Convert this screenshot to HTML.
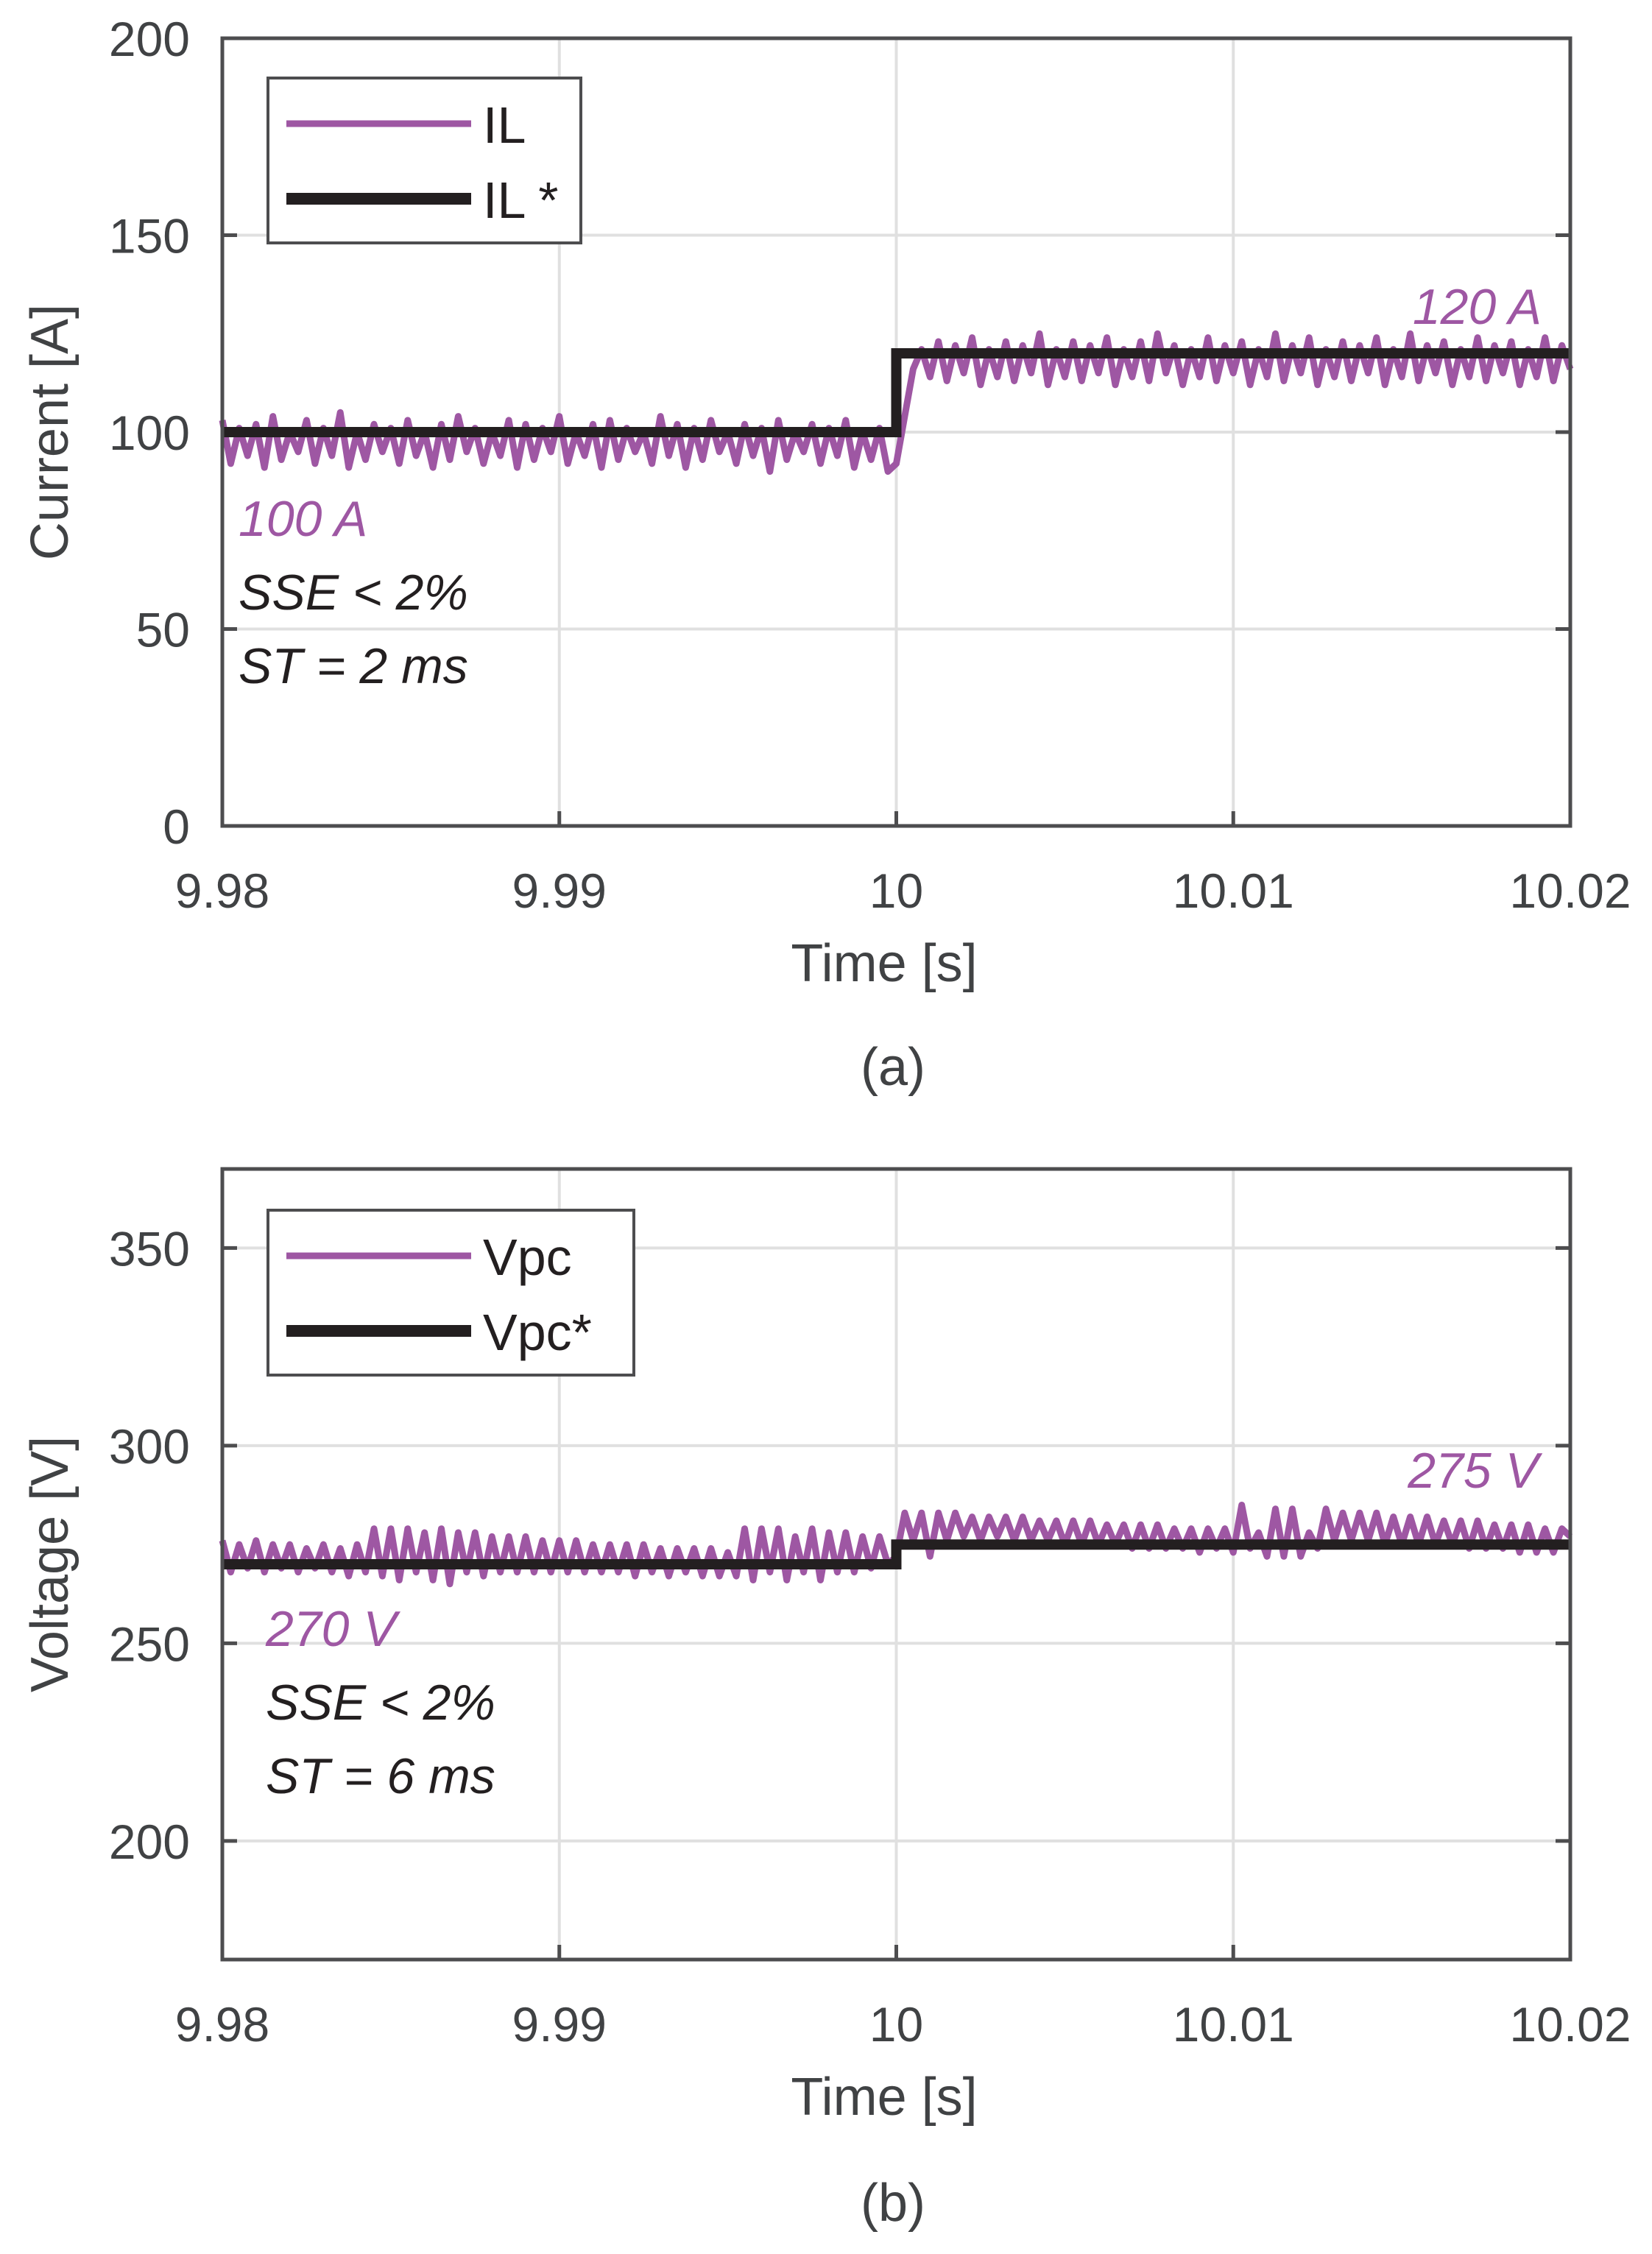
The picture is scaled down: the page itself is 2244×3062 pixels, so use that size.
<!DOCTYPE html>
<html><head><meta charset="utf-8"><style>
html,body{margin:0;padding:0;background:#fff;}
svg{display:block;font-family:"Liberation Sans",sans-serif;}
</style></head><body>
<svg id="fig" width="2244" height="3062" viewBox="0 0 2244 3062" xmlns="http://www.w3.org/2000/svg">
<rect width="2244" height="3062" fill="#fff"/>
<g id="panelA"></g>
<g id="panelB"></g>
</svg>
<script>
const tStart = 9.98, tStep = 0.00025;
const xTicks = [9.98, 9.99, 10, 10.01, 10.02];
const xTickLabels = ["9.98", "9.99", "10", "10.01", "10.02"];
const yTicksA = [0, 50, 100, 150, 200];
const yTicksB = [200, 250, 300, 350];
const refTimes = [9.98, 10.0, 10.0, 10.02];
const ilRef = [100, 100, 120, 120];
const vpcRef = [270, 270, 275, 275];
const ilValues = [
103,92,101,94,102,91,104,93,100,95,103,92,101,94,105,91,100,93,102,95,
101,92,103,94,100,91,102,93,104,95,101,92,100,94,103,91,102,93,101,95,
104,92,100,94,102,91,103,93,101,95,100,92,104,94,102,91,101,93,103,95,
100,92,102,94,101,90,103,93,100,95,102,92,101,94,103,91,100,93,101,90,
92,104,116,121,114,123,113,122,115,124,112,121,114,123,113,122,115,125,112,121,
114,123,113,122,115,124,112,121,114,123,113,125,115,122,112,121,114,124,113,122,
115,123,112,121,114,125,113,122,115,124,112,121,114,123,113,122,115,124,112,121,
114,125,113,122,115,123,112,121,114,124,113,122,115,123,112,121,114,124,113,122,116];
const vpcValues = [
276,268,275,269,276,268,275,269,275,268,274,269,275,268,274,267,275,268,279,267,
279,266,279,268,278,266,279,265,278,268,278,267,277,268,277,268,277,268,276,268,
276,268,276,268,275,268,275,268,275,267,275,268,274,267,274,268,274,267,274,267,
273,267,279,266,279,268,279,266,277,268,279,266,278,268,278,268,277,269,277,270,
272,283,276,283,272,283,276,283,277,282,276,282,277,282,276,282,276,281,276,281,
275,281,275,281,275,280,275,280,274,280,274,280,274,279,274,279,273,279,274,279,
273,285,274,278,272,284,272,284,272,278,274,284,276,283,276,283,276,283,275,282,
275,282,275,282,275,281,275,281,274,281,274,280,274,280,273,280,273,279,273,279,277];

const NS = "http://www.w3.org/2000/svg";
const AX = "#4d4d4f", TXT = "#404244", PUR = "#9e57a3", BLK = "#231f20";
function mk(parent, tag, attrs, text) {
  const e = document.createElementNS(NS, tag);
  for (const k in attrs) e.setAttribute(k, attrs[k]);
  if (text !== undefined) e.textContent = text;
  parent.appendChild(e);
  return e;
}
function drawPanel(g, cfg) {
  const L = 302, R = 2133, T = cfg.top, B = cfg.bottom;
  const xs = t => L + (t - 9.98) / 0.04 * (R - L);
  const ys = v => B - (v - cfg.ymin) / (cfg.ymax - cfg.ymin) * (B - T);
  xTicks.forEach((t, i) => {
    const gl = mk(g, "line", {x1: xs(t), x2: xs(t), y1: T, y2: B, stroke: "#e0e0e0", "stroke-width": 4});
    
    
    const tk = mk(g, "line", {x1: xs(t), x2: xs(t), y1: B, y2: B - 20, stroke: AX, "stroke-width": 5});
    
    
    const lb = mk(g, "text", {x: xs(t), y: cfg.xLabelY, "text-anchor": "middle", "font-size": 66, fill: TXT}, xTickLabels[i]);
    
    
  });
  cfg.yTicks.forEach(v => {
    const gl = mk(g, "line", {x1: L, x2: R, y1: ys(v), y2: ys(v), stroke: "#e0e0e0", "stroke-width": 4});
    
    
    const t1 = mk(g, "line", {x1: L, x2: L + 20, y1: ys(v), y2: ys(v), stroke: AX, "stroke-width": 5});
    
    
    const t2 = mk(g, "line", {x1: R, x2: R - 20, y1: ys(v), y2: ys(v), stroke: AX, "stroke-width": 5});
    
    
    const lb = mk(g, "text", {x: 258, y: ys(v) + 24, "text-anchor": "end", "font-size": 66, fill: TXT}, String(v));
    
    
  });
  const pts = cfg.values.map((v, i) => xs(tStart + i * tStep).toFixed(1) + "," + ys(v).toFixed(1)).join(" ");
  const meas = mk(g, "polyline", {points: pts, fill: "none", stroke: PUR, "stroke-width": 9, "stroke-linejoin": "round"});
  
  
  const rp = cfg.ref.map((v, i) => xs(refTimes[i]).toFixed(1) + "," + ys(v).toFixed(1)).join(" ");
  const ref = mk(g, "polyline", {points: rp, fill: "none", stroke: BLK, "stroke-width": 14, "stroke-linejoin": "miter"});
  
  
  const box = mk(g, "rect", {x: L, y: T, width: R - L, height: B - T, fill: "none", stroke: AX, "stroke-width": 5});
  
  
  const lg = mk(g, "g", {});
  
  
  mk(lg, "rect", {x: 364, y: cfg.legTop, width: cfg.legW, height: 224, fill: "#fff", stroke: AX, "stroke-width": 4});
  const e1 = mk(lg, "line", {x1: 389, x2: 640, y1: cfg.legTop + 62, y2: cfg.legTop + 62, stroke: PUR, "stroke-width": 9});
  
  
  const e1t = mk(lg, "text", {x: 656, y: cfg.legTop + 88, "font-size": 70, fill: BLK}, cfg.leg1);
  
  
  const e2 = mk(lg, "line", {x1: 389, x2: 640, y1: cfg.legTop + 164, y2: cfg.legTop + 164, stroke: BLK, "stroke-width": 16});
  
  
  const e2t = mk(lg, "text", {x: 656, y: cfg.legTop + 190, "font-size": 70, fill: BLK}, cfg.leg2);
  
  
  const a1 = mk(g, "text", {x: cfg.hiX, y: cfg.hiY, "text-anchor": "end", "font-size": 68, "font-style": "italic", fill: PUR}, cfg.hiText);
  
  
  const a2 = mk(g, "text", {x: cfg.loX, y: cfg.loY, "font-size": 68, "font-style": "italic", fill: PUR}, cfg.loText);
  
  
  const a3 = mk(g, "text", {x: cfg.loX, y: cfg.loY + 100, "font-size": 68, "font-style": "italic", fill: BLK}, "SSE < 2%");
  
  
  const a4 = mk(g, "text", {x: cfg.loX, y: cfg.loY + 200, "font-size": 68, "font-style": "italic", fill: BLK}, cfg.stText);
  
  
  const yt = mk(g, "text", {x: 0, y: 0, "text-anchor": "middle", "font-size": 72, fill: TXT, transform: "translate(92," + ((T + B) / 2) + ") rotate(-90)"}, cfg.yTitle);
  
  
  const xt = mk(g, "text", {x: 1201, y: cfg.xLabelY + 100, "text-anchor": "middle", "font-size": 72, fill: TXT}, "Time [s]");
  
  
  const cap = mk(g, "text", {x: 1213, y: cfg.capY, "text-anchor": "middle", "font-size": 72, fill: TXT}, cfg.cap);
  
  
}
drawPanel(document.getElementById("panelA"), {
  top: 52, bottom: 1122, ymin: 0, ymax: 200, yTicks: yTicksA, xLabelY: 1233,
  values: ilValues, ref: ilRef, measName: "il-measured-line", refName: "il-reference-line",
  legTop: 106, legW: 425, leg1: "IL", leg2: "IL *",
  hiX: 2094, hiY: 440, hiText: "120 A", loX: 324, loY: 728, loText: "100 A", stText: "ST = 2 ms",
  yTitle: "Current [A]", capY: 1474, cap: "(a)"
});
drawPanel(document.getElementById("panelB"), {
  top: 1588, bottom: 2662, ymin: 170, ymax: 370, yTicks: yTicksB, xLabelY: 2773,
  values: vpcValues, ref: vpcRef, measName: "vpc-measured-line", refName: "vpc-reference-line",
  legTop: 1644, legW: 497, leg1: "Vpc", leg2: "Vpc*",
  hiX: 2090, hiY: 2021, hiText: "275 V", loX: 361, loY: 2236, loText: "270 V", stText: "ST = 6 ms",
  yTitle: "Voltage [V]", capY: 3017, cap: "(b)"
});
</script>
</body></html>
